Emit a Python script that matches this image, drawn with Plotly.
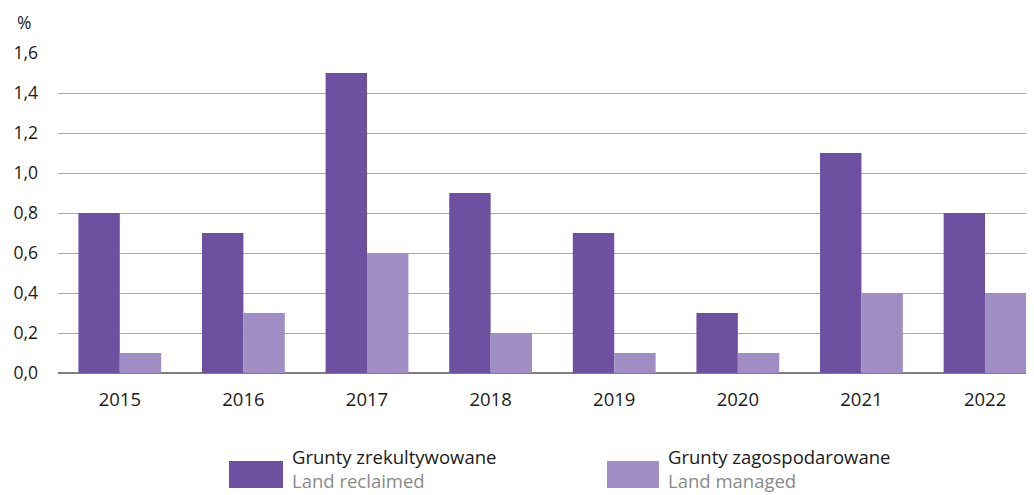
import plotly.graph_objects as go

years = ["2015", "2016", "2017", "2018", "2019", "2020", "2021", "2022"]
reclaimed = [0.8, 0.7, 1.5, 0.9, 0.7, 0.3, 1.1, 0.8]
managed = [0.1, 0.3, 0.6, 0.2, 0.1, 0.1, 0.4, 0.4]
y_ticks = [0, 0.2, 0.4, 0.6, 0.8, 1.0, 1.2, 1.4, 1.6]

DARK = "#6D50A0"
LIGHT = "#A08DC3"
FONT = "Open Sans"

fig = go.Figure()
fig.add_bar(x=years, y=reclaimed, marker_color=DARK, marker_line_width=0, showlegend=False)
fig.add_bar(x=years, y=managed, marker_color=LIGHT, marker_line_width=0, showlegend=False)

OFF = 8  # page body margin
W, H = 1034 - OFF, 495 - OFF
L, R, T, B = 58 - OFF, 0, 53 - OFF, 122
pw, ph = W - L - R, H - T - B

# convert page pixel coordinates into paper coordinates
def px(x):
    return (x - OFF - L) / pw

def py(y):
    return (H - B - (y - OFF)) / ph

fig.update_layout(
    width=W, height=H,
    margin=dict(l=L, r=R, t=T, b=B),
    barmode="group", bargap=0.33, bargroupgap=0,
    plot_bgcolor="white", paper_bgcolor="white",
    separators=", ",
    font=dict(family=FONT, size=18, color="#1a1a1a"),
    xaxis=dict(
        type="category", range=[-0.5, 7.396], showgrid=False,
        ticks="", tickfont=dict(size=18.5), ticklabelstandoff=13,
        showline=False,
    ),
    yaxis=dict(
        range=[0, 1.6], tickvals=y_ticks, tickformat=".1f",
        showgrid=True, gridcolor="#A8A8A8", gridwidth=1.2,
        zeroline=True, zerolinecolor="#7F7F7F", zerolinewidth=1.5,
        ticks="", ticklabelstandoff=19, tickfont=dict(size=17.5),
    ),
)

fig.add_annotation(text="%", xref="paper", yref="paper", x=px(24), y=py(22),
                   showarrow=False, font=dict(size=17.5), xanchor="center", yanchor="middle")

legend = [
    (229, 283, 294, DARK, "Grunty zrekultywowane", "Land reclaimed"),
    (607, 659, 670, LIGHT, "Grunty zagospodarowane", "Land managed"),
]
for x0, x1, tx, col, pl, en in legend:
    fig.add_shape(type="rect", xref="paper", yref="paper",
                  x0=px(x0), x1=px(x1), y0=py(488), y1=py(461),
                  fillcolor=col, line_width=0)
    fig.add_annotation(
        text=f"{pl}<br><span style='color:#8a8a8a'>{en}</span>",
        xref="paper", yref="paper", x=px(tx - 3), y=py(494),
        showarrow=False, xanchor="left", yanchor="bottom", align="left",
        borderpad=0, font=dict(size=18.5, color="#1a1a1a"),
    )

fig.write_html("out.html")
